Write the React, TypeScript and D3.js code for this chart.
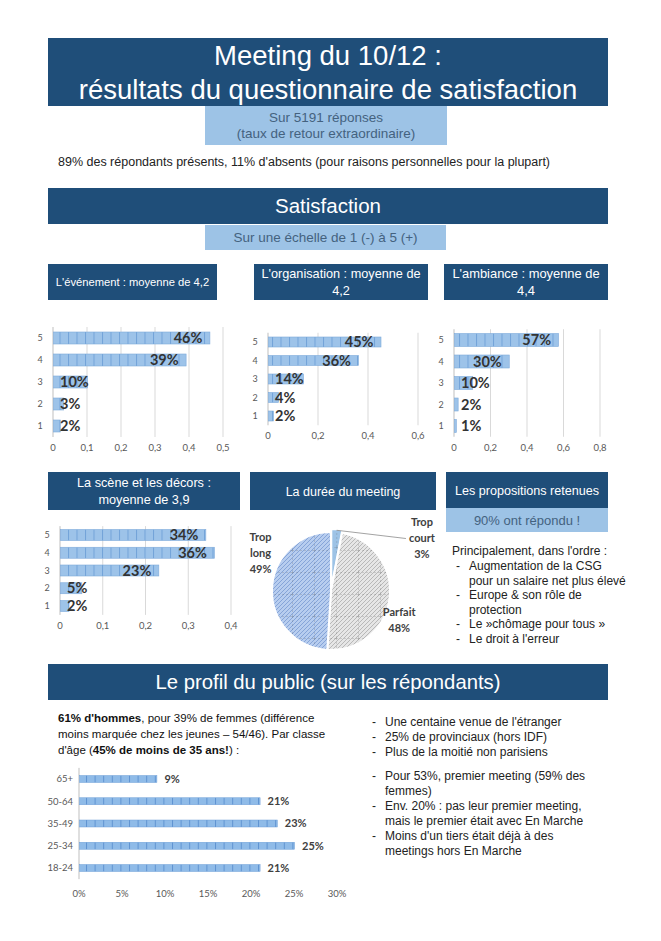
import { arc, format, pie, pointRadial, scaleLinear, scalePoint } from 'd3';
import type { PieArcDatum } from 'd3';

const scoreCategories = ['5', '4', '3', '2', '1'];
const evenementValues = [0.46, 0.39, 0.1, 0.03, 0.02];
const organisationValues = [0.45, 0.36, 0.14, 0.04, 0.02];
const ambianceValues = [0.57, 0.3, 0.1, 0.02, 0.01];
const sceneValues = [0.34, 0.36, 0.23, 0.05, 0.02];
const evenementTicks = [0, 0.1, 0.2, 0.3, 0.4, 0.5];
const organisationTicks = [0, 0.2, 0.4, 0.6];
const ambianceTicks = [0, 0.2, 0.4, 0.6, 0.8];
const sceneTicks = [0, 0.1, 0.2, 0.3, 0.4];

const dureeLabels = ['Trop court', 'Parfait', 'Trop long'];
const dureeValues = [3, 48, 49];

const ageCategories = ['65+', '50-64', '35-49', '25-34', '18-24'];
const ageValues = [0.09, 0.21, 0.23, 0.25, 0.21];
const ageTicks = [0, 0.05, 0.1, 0.15, 0.2, 0.25, 0.3];

const propositions = [
  ['Augmentation de la CSG', 'pour un salaire net plus élevé'],
  ['Europe & son rôle de', 'protection'],
  ['Le  »chômage pour tous »'],
  ["Le droit à l'erreur"],
];

const profilItems = [
  ["Une centaine venue de l'étranger"],
  ['25% de provinciaux (hors IDF)'],
  ['Plus de la moitié non parisiens'],
];
const meetingItems = [
  ['Pour 53%, premier meeting (59% des', 'femmes)'],
  ['Env. 20% : pas leur premier meeting,', 'mais le premier était avec En Marche'],
  ["Moins d'un tiers était déjà à des", 'meetings hors En Marche'],
];

const FONT = '"Liberation Sans", Arial, sans-serif';
const CHART_FONT = 'Lato, "Open Sans", sans-serif';
const DARK = '#1f4e79';
const LIGHT = '#9dc3e6';
const LIGHT_TEXT = '#44627f';

const comma = (d: number) => String(d).replace('.', ',');
const pct = format('.0%');

interface BoxProps {
  x: number;
  y: number;
  w: number;
  h: number;
  lines: string[];
  size: number;
  light?: boolean;
  lineGap?: number;
}

const Box = ({ x, y, w, h, lines, size, light, lineGap = size * 1.35 }: BoxProps) => {
  const cy = y + h / 2 - ((lines.length - 1) * lineGap) / 2;
  return (
    <g>
      <rect x={x} y={y} width={w} height={h} fill={light ? LIGHT : DARK} />
      {lines.map((l, i) => (
        <text
          key={l}
          x={x + w / 2}
          y={cy + i * lineGap}
          dy="0.36em"
          textAnchor="middle"
          fontFamily={FONT}
          fontSize={size}
          fill={light ? LIGHT_TEXT : '#fff'}
        >
          {l}
        </text>
      ))}
    </g>
  );
};

interface ScoreChartProps {
  values: number[];
  ticks: number[];
  x0: number;
  x1: number;
  y0: number;
  y1: number;
  barHeight: number;
}

const ScoreChart = ({ values, ticks, x0, x1, y0, y1, barHeight }: ScoreChartProps) => {
  const x = scaleLinear().domain([0, ticks[ticks.length - 1]]).range([x0, x1]);
  const y = scalePoint<string>().domain(scoreCategories).range([y0, y1]);
  const step = y.step();
  const gridTop = y0 - step / 2;
  const gridBottom = y1 + step / 2;
  const fontSize = 14.5;
  return (
    <g fontFamily={CHART_FONT}>
      {ticks.map((t) => (
        <g key={t}>
          <line
            x1={x(t)}
            x2={x(t)}
            y1={gridTop}
            y2={gridBottom}
            stroke={t === 0 ? '#bfbfbf' : '#d9d9d9'}
            strokeWidth={1}
          />
          <text x={x(t)} y={gridBottom + 14} textAnchor="middle" fontSize={9.5} fill="#595959">
            {comma(t)}
          </text>
        </g>
      ))}
      {scoreCategories.map((c, i) => {
        const v = values[i];
        const end = x(v);
        const label = pct(v);
        const w = label.length * fontSize * 0.62;
        const inside = end - x0 > w + 18;
        const cy = y(c) ?? 0;
        return (
          <g key={c}>
            <text x={x0 - 13} y={cy} dy="0.35em" textAnchor="middle" fontSize={9} fill="#595959">
              {c}
            </text>
            <rect
              x={x0 + 0.5}
              y={cy - barHeight / 2}
              width={Math.max(end - x0, 1)}
              height={barHeight}
              fill="url(#barPattern)"
              stroke="#7eaadb"
              strokeWidth={0.6}
            />
            <text
              x={inside ? end - 7 : x0 + 7}
              y={cy}
              dy="0.36em"
              textAnchor={inside ? 'end' : 'start'}
              fontSize={fontSize}
              fontWeight={700}
              fill="#333"
            >
              {label}
            </text>
          </g>
        );
      })}
    </g>
  );
};

const AgeChart = () => {
  const x = scaleLinear().domain([0, 0.3]).range([79, 337]);
  const y = scalePoint<string>().domain(ageCategories).range([779, 868]);
  const step = y.step();
  return (
    <g fontFamily={CHART_FONT}>
      <line x1={79} x2={79} y1={779 - step / 2} y2={868 + step / 2} stroke="#bfbfbf" />
      {ageTicks.map((t) => (
        <text key={t} x={x(t)} y={897} textAnchor="middle" fontSize={9.5} fill="#595959">
          {pct(t)}
        </text>
      ))}
      {ageCategories.map((c, i) => {
        const cy = y(c) ?? 0;
        const v = ageValues[i];
        return (
          <g key={c}>
            <text x={73} y={cy} dy="0.35em" textAnchor="end" fontSize={9.5} fill="#595959">
              {c}
            </text>
            <rect
              x={x(0) + 0.5}
              y={cy - 3.5}
              width={x(v) - x(0)}
              height={7}
              fill="url(#agePattern)"
              stroke="#6f9fd8"
              strokeWidth={0.5}
            />
            <text x={x(v) + 8} y={cy} dy="0.36em" fontSize={11} fontWeight={700} fill="#404040">
              {pct(v)}
            </text>
          </g>
        );
      })}
    </g>
  );
};

const DureePie = () => {
  const cx = 331;
  const cy = 591;
  const r = 59;
  const arcs = pie<number>().sort(null).value((d) => d)(dureeValues);
  const path = arc<PieArcDatum<number>>().innerRadius(0).outerRadius(r);
  const fills = ['#9dc3e6', 'url(#pieGrey)', 'url(#pieBlue)'];
  const courtArc = arcs[0];
  const courtMid = (courtArc.startAngle + courtArc.endAngle) / 2;
  const [lx0, ly0] = pointRadial(courtMid, r + 2);
  const labelPos = arcs.map((a, i) => {
    if (i === 0) return pointRadial(Math.PI / 3, 105);
    const ang = a.startAngle + (a.endAngle - a.startAngle) * (i === 1 ? 0.59 : 0.65);
    return pointRadial(ang, i === 1 ? 74 : 80);
  });
  return (
    <g>
      <g transform={`translate(${cx},${cy})`}>
        {arcs.map((a, i) => {
          const [ox, oy] = i === 0 ? pointRadial(courtMid, 3) : [0, 0];
          return (
            <g key={dureeLabels[i]} transform={`translate(${ox},${oy})`}>
              <path d={path(a) ?? ''} fill={fills[i]} />
              <path d={path(a) ?? ''} fill="url(#pieGrid)" />
              <path d={path(a) ?? ''} fill="none" stroke="#fff" strokeWidth={2} />
            </g>
          );
        })}
        <line
          x1={lx0}
          y1={ly0}
          x2={labelPos[0][0] - 16}
          y2={labelPos[0][1]}
          stroke="#8c8c8c"
          strokeWidth={0.8}
        />
        {arcs.map((a, i) => {
          const [px, py] = labelPos[i];
          const lines = [...dureeLabels[i].split(' '), `${a.data}%`];
          const start = py - ((lines.length - 1) * 16) / 2;
          return (
            <text
              key={dureeLabels[i]}
              textAnchor="middle"
              fontFamily={CHART_FONT}
              fontSize={11}
              fontWeight={700}
              fill="#404040"
            >
              {lines.map((l, j) => (
                <tspan key={j} x={px} y={start + j * 16} dy="0.36em">
                  {l}
                </tspan>
              ))}
            </text>
          );
        })}
      </g>
    </g>
  );
};

const DashList = ({
  items,
  dashX,
  textX,
  y,
  gap,
  size,
}: {
  items: string[][];
  dashX: number;
  textX: number;
  y: number;
  gap: number;
  size: number;
}) => {
  let row = 0;
  return (
    <g fontFamily={FONT} fontSize={size} fill="#222">
      {items.map((lines, i) => {
        const first = row;
        row += lines.length;
        return (
          <g key={i}>
            <text x={dashX} y={y + first * gap}>
              -
            </text>
            {lines.map((l, j) => (
              <text key={j} x={textX} y={y + (first + j) * gap}>
                {l}
              </text>
            ))}
          </g>
        );
      })}
    </g>
  );
};

export default function App() {
  return (
    <svg
      width={661}
      height={941}
      style={{ position: 'absolute', left: 0, top: 0, background: '#fff' }}
    >
      <defs>
        <pattern id="barPattern" width={8.5} height={20} patternUnits="userSpaceOnUse">
          <rect width={8.5} height={20} fill="#9dc3e9" />
          <line x1={0.5} x2={0.5} y1={0} y2={20} stroke="#73a3d9" strokeWidth={1} />
        </pattern>
        <pattern id="agePattern" width={8.6} height={20} patternUnits="userSpaceOnUse">
          <rect width={8.6} height={20} fill="#8fbbe8" />
          <line x1={0.5} x2={0.5} y1={0} y2={20} stroke="#5f93d1" strokeWidth={1} />
        </pattern>
        <pattern id="pieBlue" width={4} height={4} patternUnits="userSpaceOnUse">
          <rect width={4} height={4} fill="#b7cdef" />
          <path d="M-1,1 l2,-2 M0,4 l4,-4 M3,5 l2,-2" stroke="#7f9fd6" strokeWidth={0.9} />
        </pattern>
        <pattern id="pieGrey" width={4} height={4} patternUnits="userSpaceOnUse">
          <rect width={4} height={4} fill="#e6e6e6" />
          <path d="M-1,1 l2,-2 M0,4 l4,-4 M3,5 l2,-2" stroke="#b3b3b3" strokeWidth={0.9} />
        </pattern>
        <pattern id="pieGrid" width={22} height={22} patternUnits="userSpaceOnUse" x={5} y={3}>
          <path d="M0,0 V22 M0,0 H22" stroke="#555" strokeWidth={0.7} strokeDasharray="2,2" fill="none" opacity={0.6} />
        </pattern>
      </defs>

      <Box
        x={48}
        y={38}
        w={560}
        h={68}
        size={27.5}
        lineGap={34}
        lines={['Meeting du 10/12 :', 'résultats du questionnaire de satisfaction']}
      />
      <Box
        x={205}
        y={106}
        w={242}
        h={39}
        size={13.5}
        lineGap={16}
        light
        lines={['Sur 5191 réponses', '(taux de retour extraordinaire)']}
      />
      <text x={58} y={166} fontFamily={FONT} fontSize={12.5} fill="#222">
        89% des répondants présents, 11% d'absents (pour raisons personnelles pour la plupart)
      </text>

      <Box x={48} y={188} w={560} h={36} size={20.5} lines={['Satisfaction']} />
      <Box x={205} y={225} w={241} h={25} size={13.5} light lines={['Sur une échelle de 1 (-) à 5 (+)']} />

      <Box x={48} y={264} w={169} h={36} size={11.2} lines={["L'événement : moyenne de 4,2"]} />
      <Box x={254} y={264} w={174} h={36} size={12.7} lineGap={17} lines={["L'organisation : moyenne de", '4,2']} />
      <Box x={444} y={264} w={164} h={36} size={12.9} lineGap={17} lines={["L'ambiance : moyenne de", '4,4']} />

      <ScoreChart values={evenementValues} ticks={evenementTicks} x0={53} x1={223} y0={338} y1={426} barHeight={12} />
      <ScoreChart values={organisationValues} ticks={organisationTicks} x0={268} x1={418} y0={342} y1={416} barHeight={10} />
      <ScoreChart values={ambianceValues} ticks={ambianceTicks} x0={454} x1={600} y0={340} y1={426} barHeight={13} />

      <Box x={48} y={472} w={192} h={38} size={12.7} lineGap={17} lines={['La scène et les décors :', 'moyenne de 3,9']} />
      <Box x={250} y={472} w={186} h={38} size={12.5} lines={['La durée du meeting']} />
      <Box x={446} y={472} w={162} h={36} size={12.6} lines={['Les propositions retenues']} />
      <Box x={446} y={508} w={162} h={24} size={13} light lines={['90% ont répondu !']} />

      <ScoreChart values={sceneValues} ticks={sceneTicks} x0={60} x1={231} y0={535} y1={606} barHeight={11} />
      <DureePie />

      <text x={452} y={555} fontFamily={FONT} fontSize={12} fill="#222">
        Principalement, dans l'ordre :
      </text>
      <DashList items={propositions} dashX={456} textX={469} y={570} gap={14.6} size={12} />

      <Box x={48} y={664} w={560} h={36} size={20.3} lines={['Le profil du public (sur les répondants)']} />

      <g fontFamily={FONT} fontSize={11.5} fill="#111">
        <text x={58} y={722}>
          <tspan fontWeight={700}>61% d'hommes</tspan>, pour 39% de femmes (différence
        </text>
        <text x={58} y={738}>
          moins marquée chez les jeunes – 54/46). Par classe
        </text>
        <text x={58} y={754}>
          d'âge (<tspan fontWeight={700}>45% de moins de 35 ans!</tspan>) :
        </text>
      </g>
      <AgeChart />

      <DashList items={profilItems} dashX={372} textX={385} y={726} gap={15} size={12} />
      <DashList items={meetingItems} dashX={372} textX={385} y={780} gap={15} size={12} />
    </svg>
  );
}
